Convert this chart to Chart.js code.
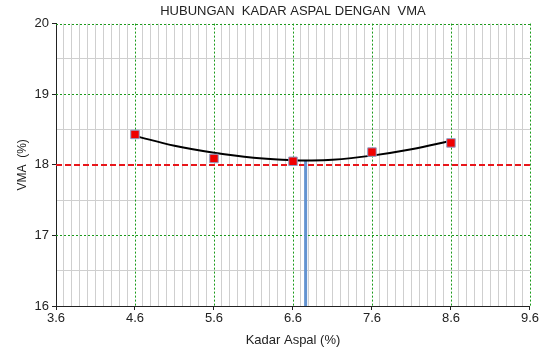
<!DOCTYPE html>
<html lang="id">
<head>
    <meta charset="UTF-8">
    <title>Hubungan Kadar Aspal dengan VMA</title>
    <script src="https://cdn.jsdelivr.net/npm/chart.js"></script>
    <style>
        html, body { margin: 0; padding: 0; background: #fff; }
        #wrap { width: 540px; height: 348px; }
    </style>
</head>
<body>
    <div id="wrap"><canvas id="vmaChart" width="540" height="348"></canvas></div>

    <script>
        // Data hasil uji (kadar aspal vs VMA)
        const kadarAspal = [4.6, 5.6, 6.6, 7.6, 8.6];
        const nilaiVMA = [18.43, 18.09, 18.05, 18.18, 18.31];

        // Titik-titik yang dibaca dari garis regresi
        const kurvaX = [4.6, 5.1, 5.6, 6.1, 6.6, 6.76, 7.1, 7.6, 8.1, 8.6];
        const kurvaY = [18.41, 18.27, 18.17, 18.10, 18.065, 18.06, 18.07, 18.13, 18.22, 18.34];

        // Kadar aspal optimum (garis biru) dan batas VMA
        const kadarOptimum = [6.76, 6.76];
        const vmaOptimum = [18.06, 16];
        const batasVMA = 18;

        const xMin = 3.6, xMax = 9.6, yMin = 16, yMax = 20;

        const isMajorX = v => {
            const r = ((v - xMin) * 10) % 10;
            return Math.abs(r) < 0.01 || Math.abs(r - 10) < 0.01;
        };
        const isMajorY = v => Math.abs(v - Math.round(v)) < 0.01;

        // Garis grid hijau putus-putus dan garis batas merah
        const gridPlugin = {
            id: 'gridPlugin',
            beforeDatasetsDraw(chart) {
                const { ctx, chartArea, scales } = chart;
                const x = scales.x, y = scales.y;
                ctx.save();
                ctx.lineWidth = 1;
                ctx.strokeStyle = '#1a9a1a';
                ctx.setLineDash([2, 2]);
                for (let i = 1; i <= 6; i++) {
                    const px = Math.round(x.getPixelForValue(xMin + i)) + 0.5;
                    ctx.beginPath();
                    ctx.moveTo(px, chartArea.top);
                    ctx.lineTo(px, chartArea.bottom);
                    ctx.stroke();
                }
                [17, 19, 20].forEach(v => {
                    const py = Math.round(y.getPixelForValue(v)) + 0.5;
                    ctx.beginPath();
                    ctx.moveTo(chartArea.left, py);
                    ctx.lineTo(chartArea.right, py);
                    ctx.stroke();
                });
                // batas VMA
                ctx.strokeStyle = '#e8161b';
                ctx.lineWidth = 2;
                ctx.setLineDash([6, 3]);
                const py = Math.round(y.getPixelForValue(batasVMA));
                ctx.beginPath();
                ctx.moveTo(chartArea.left, py);
                ctx.lineTo(chartArea.right, py);
                ctx.stroke();
                ctx.restore();
            }
        };

        const ctx = document.getElementById('vmaChart').getContext('2d');
        new Chart(ctx, {
            type: 'scatter',
            data: {
                datasets: [
                    {
                        label: 'Kadar optimum',
                        type: 'line',
                        data: kadarOptimum.map((x, i) => ({ x: x, y: vmaOptimum[i] })),
                        borderColor: '#6393d0',
                        borderWidth: 3,
                        pointRadius: 0,
                        order: 3
                    },
                    {
                        label: 'Regresi',
                        type: 'line',
                        data: kurvaX.map((x, i) => ({ x: x, y: kurvaY[i] })),
                        borderColor: '#000',
                        borderWidth: 2,
                        tension: 0.4,
                        pointRadius: 0,
                        order: 2
                    },
                    {
                        label: 'VMA',
                        data: kadarAspal.map((x, i) => ({ x: x, y: nilaiVMA[i] })),
                        pointStyle: 'rect',
                        pointRadius: 6,
                        backgroundColor: '#f00000',
                        borderColor: '#8fa0c8',
                        borderWidth: 1,
                        order: 1
                    }
                ]
            },
            options: {
                responsive: false,
                animation: false,
                layout: { padding: { left: 0, right: 10, top: 0, bottom: 0 } },
                plugins: {
                    legend: { display: false },
                    tooltip: { enabled: false },
                    title: {
                        display: true,
                        fullSize: false,
                        text: 'HUBUNGAN  KADAR ASPAL DENGAN  VMA',
                        color: '#222',
                        font: { family: 'Liberation Sans', size: 13, weight: 'normal' },
                        padding: { top: 4, bottom: 4 }
                    }
                },
                scales: {
                    x: {
                        type: 'linear',
                        min: xMin,
                        max: xMax,
                        afterBuildTicks(scale) {
                            const t = [];
                            for (let i = 0; i <= 60; i++) t.push({ value: Math.round((xMin + i * 0.1) * 10) / 10 });
                            scale.ticks = t;
                        },
                        afterFit(scale) { scale.height = 42; },
                        ticks: {
                            autoSkip: false,
                            maxRotation: 0,
                            padding: 1,
                            color: '#222',
                            font: { family: 'Liberation Sans', size: 13 },
                            callback: v => isMajorX(v) ? v.toFixed(1) : ''
                        },
                        grid: {
                            color: c => isMajorX(c.tick.value) ? 'rgba(0,0,0,0)' : '#cfcfcf',
                            tickColor: c => isMajorX(c.tick.value) ? '#222' : 'rgba(0,0,0,0)',
                            tickLength: 4
                        },
                        border: { color: '#222', width: 1 },
                        title: {
                            display: true,
                            text: 'Kadar Aspal (%)',
                            color: '#222',
                            font: { family: 'Liberation Sans', size: 13 },
                            padding: { top: 4, bottom: 0 }
                        }
                    },
                    y: {
                        min: yMin,
                        max: yMax,
                        afterBuildTicks(scale) {
                            const t = [];
                            for (let i = 0; i <= 8; i++) t.push({ value: yMin + i * 0.5 });
                            scale.ticks = t;
                        },
                        afterFit(scale) { scale.width = 56; },
                        ticks: {
                            padding: 3,
                            color: '#222',
                            font: { family: 'Liberation Sans', size: 13 },
                            callback: v => isMajorY(v) ? String(Math.round(v)) : ''
                        },
                        grid: {
                            color: c => isMajorY(c.tick.value) ? 'rgba(0,0,0,0)' : '#cfcfcf',
                            tickColor: c => isMajorY(c.tick.value) ? '#222' : 'rgba(0,0,0,0)',
                            tickLength: 4
                        },
                        border: { color: '#222', width: 1 },
                        title: {
                            display: true,
                            text: 'VMA  (%)',
                            color: '#222',
                            font: { family: 'Liberation Sans', size: 12 },
                            padding: { top: 15, bottom: 0 }
                        }
                    }
                }
            },
            plugins: [gridPlugin]
        });
    </script>
</body>
</html>
